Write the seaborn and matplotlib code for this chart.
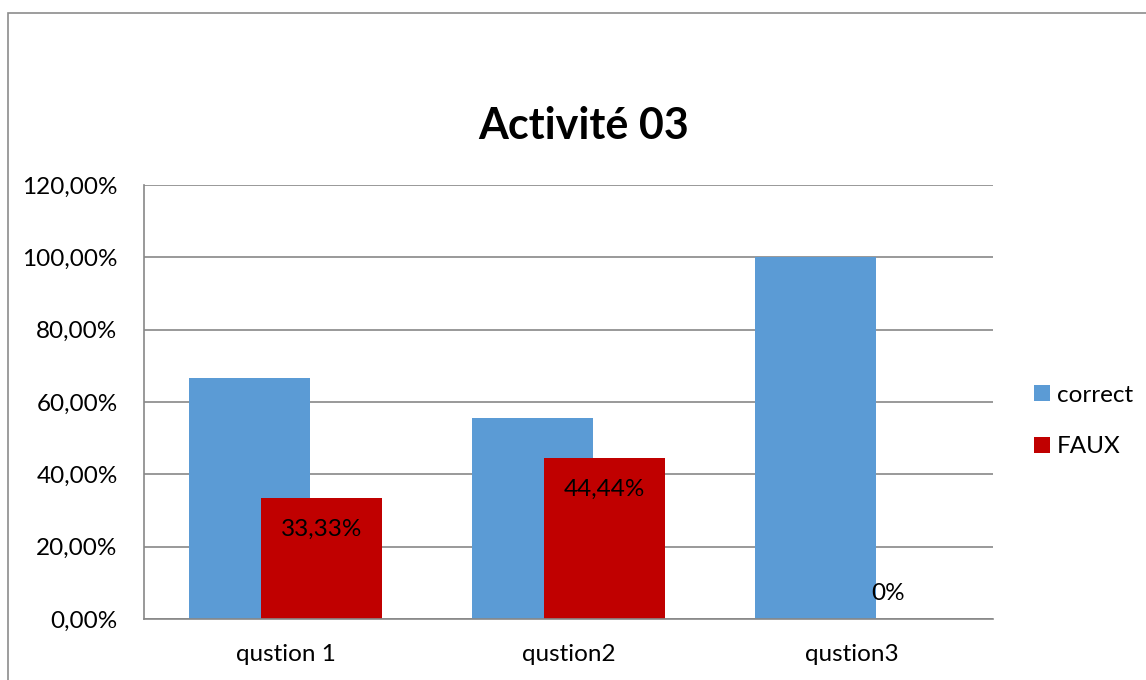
import pandas as pd
import seaborn as sns
import matplotlib.pyplot as plt
from matplotlib.patches import Rectangle

# chart data
questions = ['qustion 1', 'qustion2', 'qustion3']
series = ['correct', 'FAUX']
correct = [0.6667, 0.5556, 1.0]
faux = [0.3333, 0.4444, 0.0]
faux_labels = ['33,33%', '44,44%', '0%']
y_ticks = [0.0, 0.2, 0.4, 0.6, 0.8, 1.0, 1.2]
colors = ['#5B9BD5', '#C00000']

df = pd.DataFrame({
    'question': questions * 2,
    'serie': [series[0]] * 3 + [series[1]] * 3,
    'valeur': correct + faux,
})

sns.set_theme(style='white')
plt.rcParams['font.family'] = ['Lato', 'DejaVu Sans']
plt.rcParams['text.color'] = 'black'

fig = plt.figure(figsize=(11.46, 6.8), dpi=100)
ax = fig.add_axes([144 / 1146, 61 / 680, 849 / 1146, 434 / 680])

sns.barplot(data=df, x='question', y='valeur', hue='serie', palette=colors,
            saturation=1, width=0.8, linewidth=0, ax=ax)

# excel-style overlapping bars
w = 0.427
off = 0.128
for i, bar in enumerate(ax.containers[0]):
    bar.set_width(w)
    bar.set_x(i - off - w / 2)
for i, bar in enumerate(ax.containers[1]):
    bar.set_width(w)
    bar.set_x(i + off - w / 2)

# data labels on FAUX bars
for i, (val, lab) in enumerate(zip(faux, faux_labels)):
    dy = -31 * 0.72 if val > 0 else 26 * 0.72
    ax.annotate(lab, (i + off, val), xytext=(0, dy), textcoords='offset points',
                ha='center', va='center', fontsize=17.5, color='black')

ax.set_ylim(0, 1.2)
ax.set_xlim(-0.5, 2.5)
ax.set_yticks(y_ticks)
ax.set_yticklabels([f'{v * 100:.2f}%'.replace('.', ',') for v in y_ticks])
ax.yaxis.grid(True, color='#878787', lw=1.2)
ax.set_axisbelow(True)
for s in ['top', 'right']:
    ax.spines[s].set_visible(False)
for s in ['left', 'bottom']:
    ax.spines[s].set_color('#878787')
    ax.spines[s].set_linewidth(1.2)
ax.tick_params(axis='y', length=0, pad=19, labelsize=17.5, labelcolor='black')
ax.tick_params(axis='x', length=0, pad=18, labelsize=17.5, labelcolor='black')
ax.set_xlabel('')
ax.set_ylabel('')

handles, labels = ax.get_legend_handles_labels()
ax.get_legend().remove()
fig.legend(handles, labels, loc='center left', bbox_to_anchor=(1012 / 1146, 1 - 421 / 680),
           frameon=False, fontsize=17.5, handlelength=0.65, handleheight=0.65,
           handletextpad=0.3, labelspacing=1.25)

fig.text(584 / 1146, 1 - 126 / 680, 'Activité 03', ha='center', va='center',
         fontsize=31, fontweight='bold', color='black')

# chart border
fig.patches.append(Rectangle((8 / 1146, -0.1), 1.2, 1.1 - 13 / 680,
                             transform=fig.transFigure, fill=False,
                             edgecolor='#8c8c8c', lw=1.2))

fig.savefig('out.png', dpi=100)
